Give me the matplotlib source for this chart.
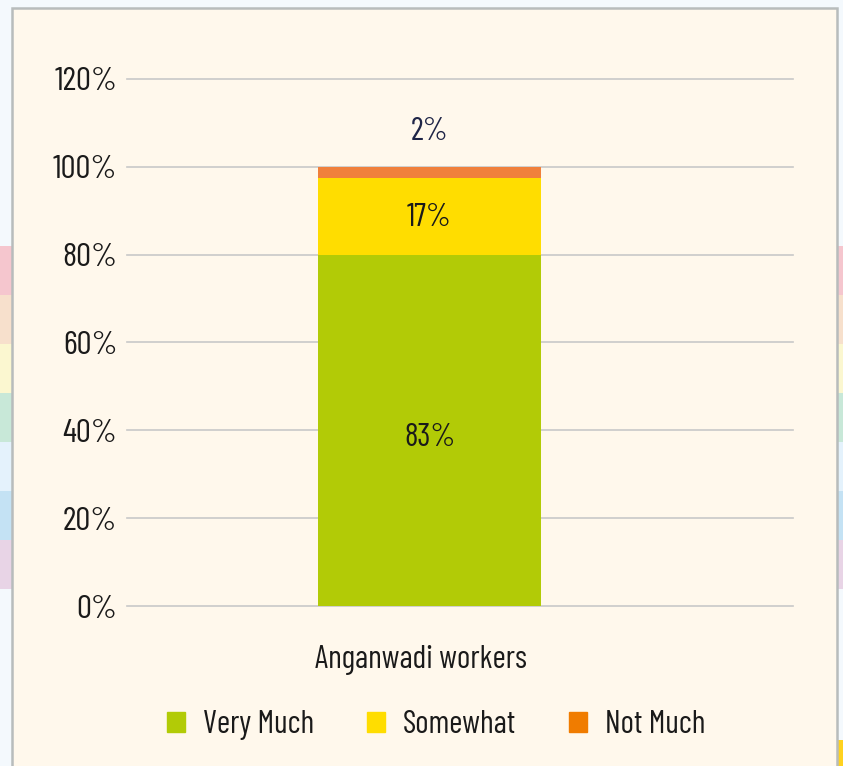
import matplotlib
matplotlib.use("Agg")
import matplotlib.pyplot as plt
from matplotlib.patches import Rectangle

plt.rcParams['font.family'] = ['Barlow Condensed', 'Barlow Semi Condensed', 'DejaVu Sans']

# data
category = 'Anganwadi workers'
series = ['Very Much', 'Somewhat', 'Not Much']
heights = [80, 17.5, 2.5]
labels = ['83%', '17%', '2%']
label_y = [38.3, 88.3, 108.0]
bar_colors = ['#b2cb06', '#ffdd00', '#f0803c']
legend_colors = ['#b2cb06', '#ffdd00', '#f07c00']
label_colors = ['#1a1a1a', '#1a1a1a', '#1f2547']
yticks = [0, 20, 40, 60, 80, 100, 120]

stripe_colors = ['#f5c6ce', '#f7e0cc', '#fbf7d0', '#c8e8d8', '#e4f2fc', '#c4e2f4', '#e8d4e6']

W, H = 843, 766
fig = plt.figure(figsize=(W / 100, H / 100), dpi=100)
fig.patch.set_facecolor('#f4f9fd')


def px(x, y, w, h):
	# pixel box (top-left origin) to figure fraction
	return (x / W, 1 - (y + h) / H, w / W, h / H)


def add_box(x, y, w, h, **kw):
	l, b, fw, fh = px(x, y, w, h)
	fig.patches.append(Rectangle((l, b), fw, fh, transform=fig.transFigure, **kw))


# coloured stripes behind the panel
for i, c in enumerate(stripe_colors):
	for x0 in (0, 830):
		add_box(x0, 246 + i * 49, 13, 49, facecolor=c, edgecolor='none', zorder=0)
add_box(830, 740, 13, 30, facecolor='#ffd21f', edgecolor='none', zorder=0)

# panel
add_box(12, 8, 825, 770, facecolor='#fff8ec', edgecolor='#b8bcbc', linewidth=1.8, zorder=1)

ax = fig.add_axes(px(127, 79, 666, 527))
ax.set_facecolor('none')
ax.set_zorder(2)

bottom = 0
for h, c in zip(heights, bar_colors):
	ax.bar(0, h, width=1, bottom=bottom, color=c, zorder=3)
	bottom += h

for t, y, c in zip(labels, label_y, label_colors):
	ax.text(0, y, t, ha='center', va='center', fontsize=23, color=c, zorder=4)

ax.set_ylim(0, 120)
ax.set_xlim(-1.357, 1.630)
ax.set_yticks(yticks)
ax.set_yticklabels([f'{v}%' for v in yticks], fontsize=24, color='#1a1a1a')
ax.set_xticks([-0.04])
ax.set_xticklabels([category], fontsize=23, color='#1a1a1a')
ax.tick_params(axis='y', length=0, pad=7)
ax.tick_params(axis='x', length=0, pad=28)
ax.grid(axis='y', color='#c8c8c8', linewidth=1.2, zorder=0)
for g in ax.get_ygridlines():
	g.set_clip_on(False)
for s in ax.spines.values():
	s.set_visible(False)

handles = [Rectangle((0, 0), 1, 1, color=c) for c in legend_colors]
leg = fig.legend(handles, series, loc='center', bbox_to_anchor=(436 / W, 1 - 725 / H),
	ncol=3, frameon=False, fontsize=23, handlelength=0.58, handleheight=0.58,
	handletextpad=0.55, columnspacing=1.65)
for t in leg.get_texts():
	t.set_color('#1a1a1a')

fig.savefig('out.png', dpi=100, facecolor=fig.get_facecolor())
